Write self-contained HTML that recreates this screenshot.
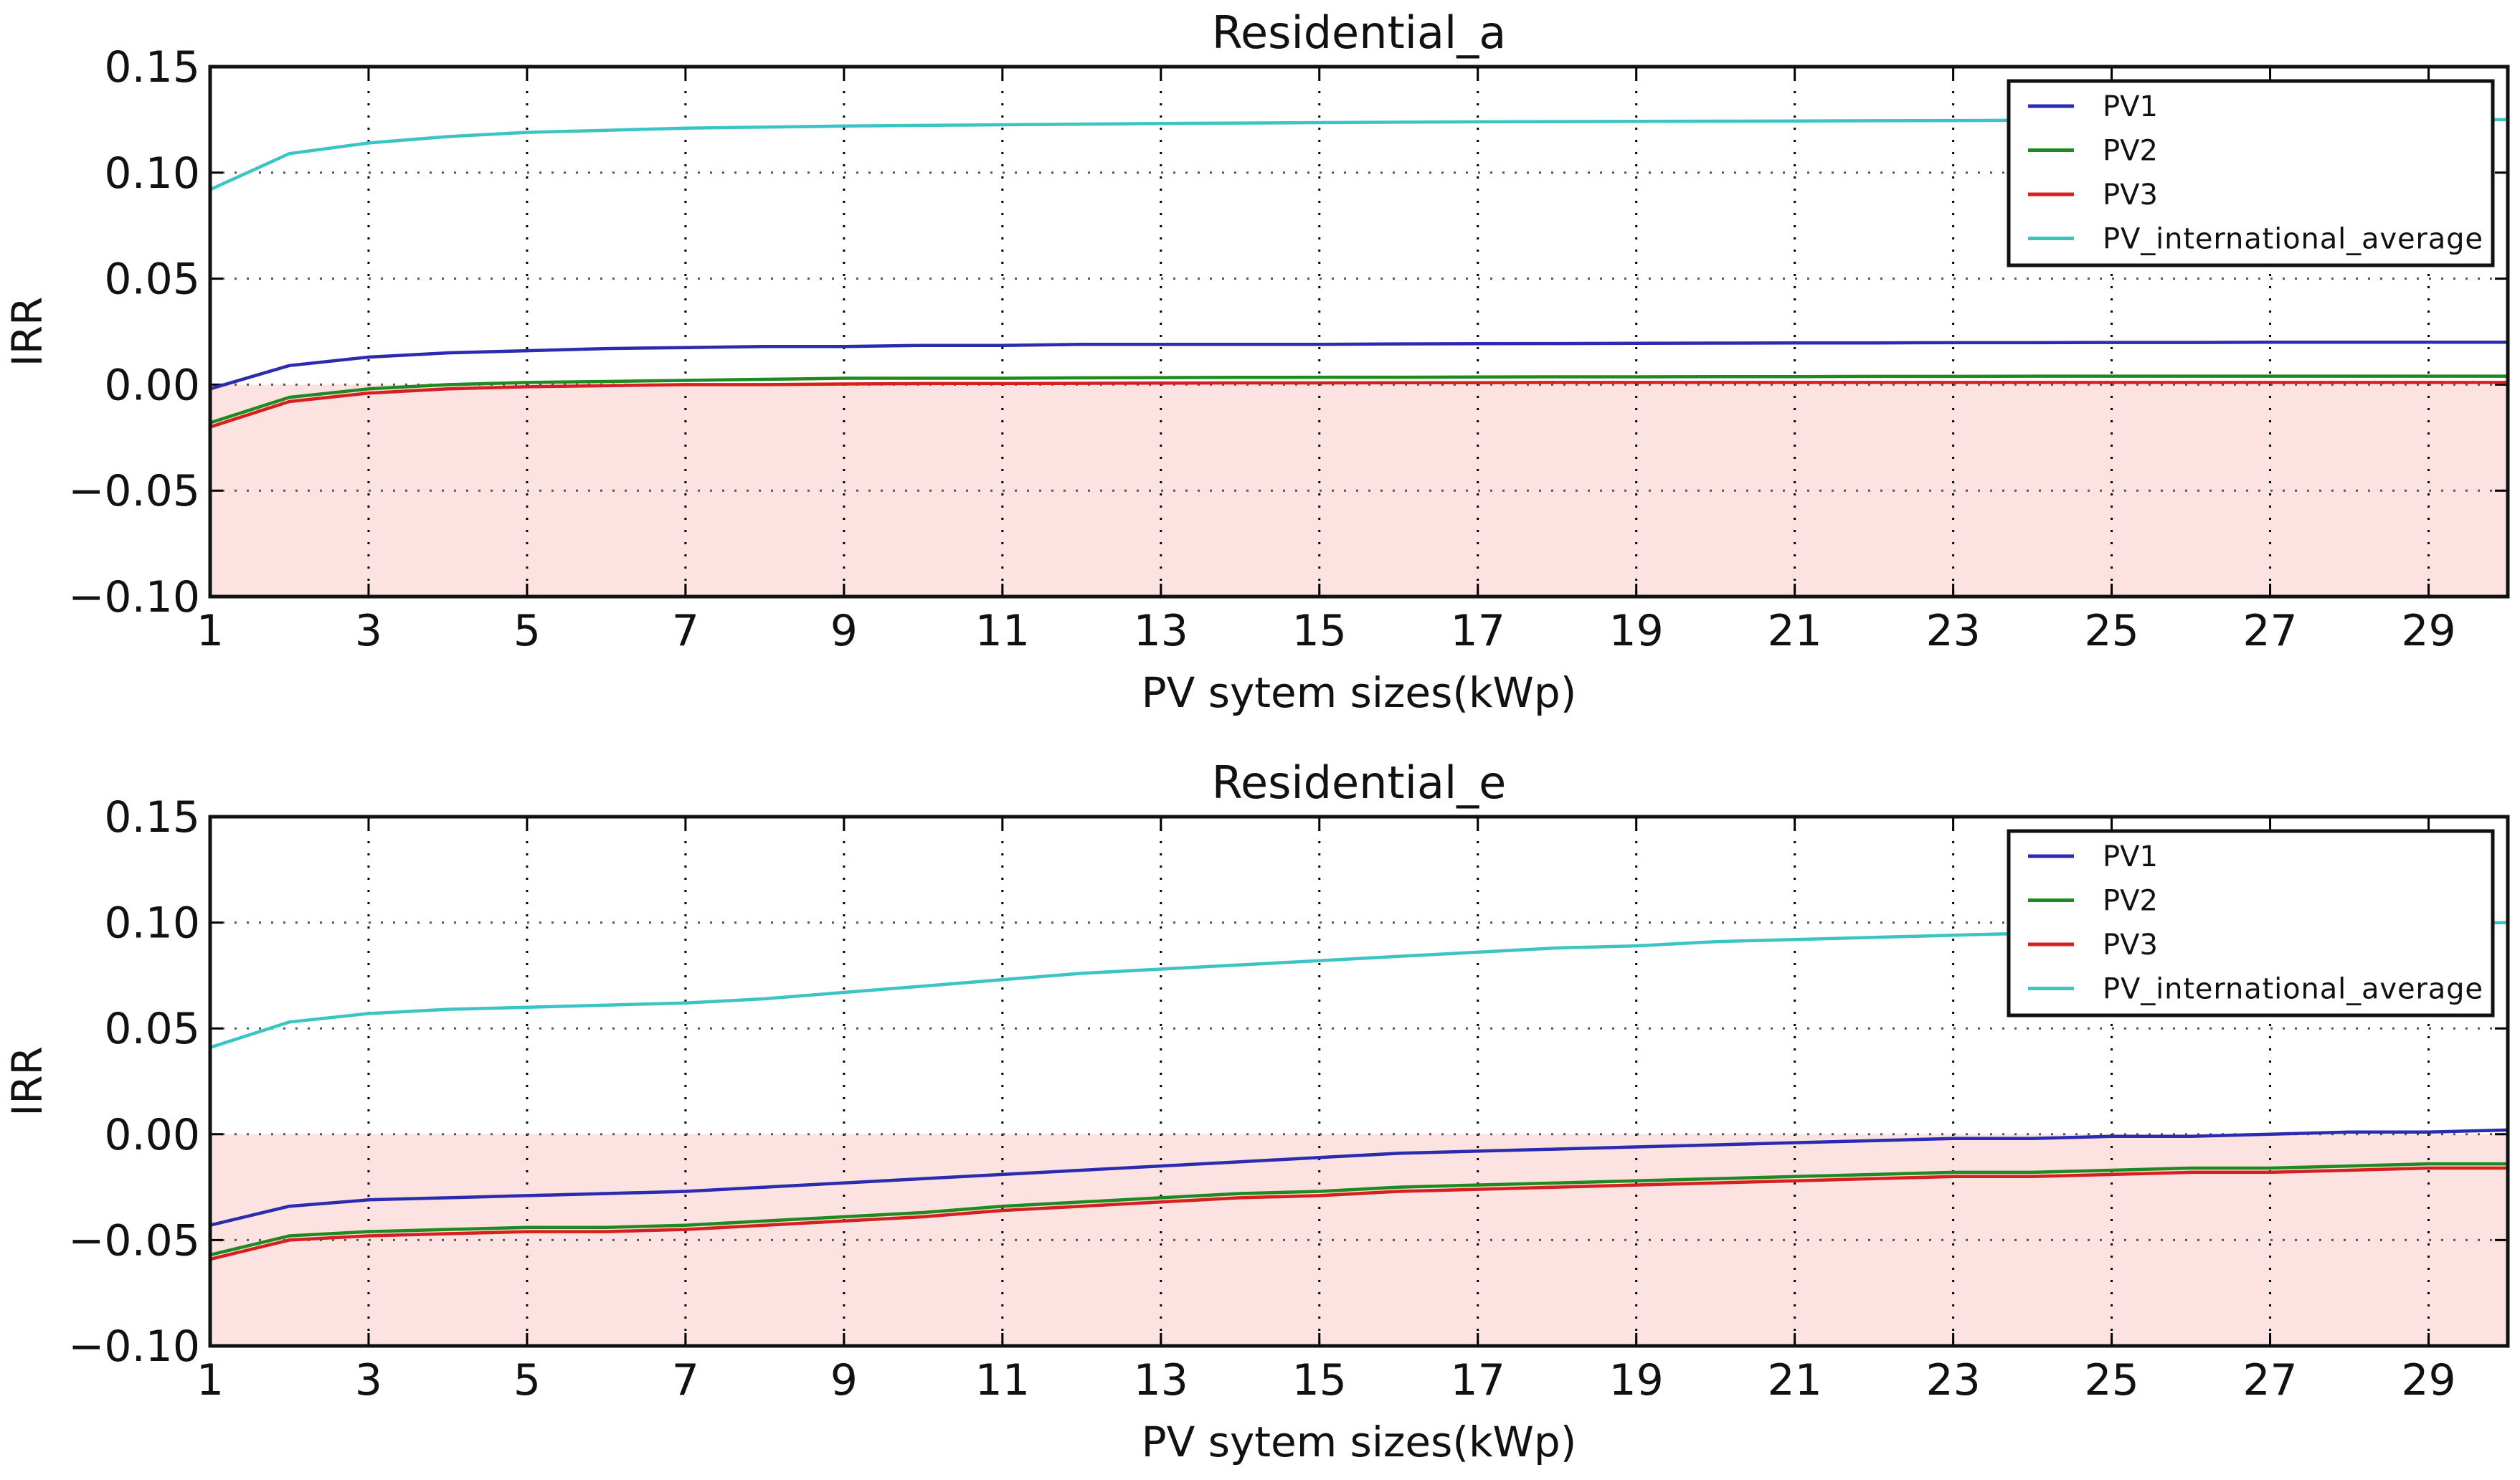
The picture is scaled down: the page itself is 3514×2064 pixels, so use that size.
<!DOCTYPE html>
<html><head><meta charset="utf-8">
<style>
html,body{margin:0;padding:0;background:#fff;}
svg{display:block;font-family:"DejaVu Sans","Liberation Sans",sans-serif;}
</style></head>
<body>
<svg id="chart" width="3514" height="2064" viewBox="0 0 3514 2064" xmlns="http://www.w3.org/2000/svg"></svg>
<script>
const xCats = [1,2,3,4,5,6,7,8,9,10,11,12,13,14,15,16,17,18,19,20,21,22,23,24,25,26,27,28,29,30];
const xTicks = [1,3,5,7,9,11,13,15,17,19,21,23,25,27,29];
const yTicks = [0.15,0.10,0.05,0.00,-0.05,-0.10];
const yTickLabels = ["0.15","0.10","0.05","0.00","\u22120.05","\u22120.10"];
const seriesNames = ["PV1","PV2","PV3","PV_international_average"];
const seriesColors = ["#2b2bb0","#1f8a1f","#d62020","#3cc4c4"];

const aPV1 = [-0.002,0.009,0.013,0.015,0.016,0.017,0.0175,0.018,0.018,0.0185,0.0185,0.019,0.019,0.019,0.019,0.0192,0.0193,0.0194,0.0195,0.0196,0.0197,0.0197,0.0198,0.0198,0.0199,0.0199,0.02,0.02,0.02,0.02];
const aPV2 = [-0.018,-0.006,-0.002,0,0.001,0.0015,0.002,0.0025,0.003,0.003,0.003,0.0032,0.0033,0.0034,0.0035,0.0035,0.0036,0.0037,0.0037,0.0038,0.0038,0.0039,0.0039,0.004,0.004,0.004,0.004,0.004,0.004,0.004];
const aPV3 = [-0.020,-0.008,-0.004,-0.002,-0.001,-0.0005,0,0,0.0003,0.0005,0.0005,0.0006,0.0007,0.0008,0.0008,0.0009,0.0009,0.001,0.001,0.001,0.001,0.001,0.001,0.001,0.001,0.001,0.001,0.001,0.001,0.001];
const aAvg = [0.092,0.109,0.114,0.117,0.119,0.120,0.121,0.1215,0.122,0.1223,0.1226,0.1229,0.1232,0.1234,0.1236,0.1238,0.124,0.1241,0.1242,0.1243,0.1244,0.1245,0.1246,0.1247,0.1248,0.1248,0.1249,0.1249,0.125,0.125];

const ePV1 = [-0.043,-0.034,-0.031,-0.030,-0.029,-0.028,-0.027,-0.025,-0.023,-0.021,-0.019,-0.017,-0.015,-0.013,-0.011,-0.009,-0.008,-0.007,-0.006,-0.005,-0.004,-0.003,-0.002,-0.002,-0.001,-0.001,0,0.001,0.001,0.002];
const ePV2 = [-0.057,-0.048,-0.046,-0.045,-0.044,-0.044,-0.043,-0.041,-0.039,-0.037,-0.034,-0.032,-0.030,-0.028,-0.027,-0.025,-0.024,-0.023,-0.022,-0.021,-0.020,-0.019,-0.018,-0.018,-0.017,-0.016,-0.016,-0.015,-0.014,-0.014];
const ePV3 = [-0.059,-0.050,-0.048,-0.047,-0.046,-0.046,-0.045,-0.043,-0.041,-0.039,-0.036,-0.034,-0.032,-0.030,-0.029,-0.027,-0.026,-0.025,-0.024,-0.023,-0.022,-0.021,-0.020,-0.020,-0.019,-0.018,-0.018,-0.017,-0.016,-0.016];
const eAvg = [0.041,0.053,0.057,0.059,0.060,0.061,0.062,0.064,0.067,0.070,0.073,0.076,0.078,0.080,0.082,0.084,0.086,0.088,0.089,0.091,0.092,0.093,0.094,0.095,0.096,0.097,0.098,0.099,0.0995,0.100];

const NS = "http://www.w3.org/2000/svg";
const svg = document.getElementById("chart");
function mk(tag, attrs, parent){const e=document.createElementNS(NS,tag);for(const k in attrs)e.setAttribute(k,attrs[k]);(parent||svg).appendChild(e);return e;}

const X0=293, X1=3497, XMIN=1, XMAX=30, YMIN=-0.10, YMAX=0.15;

function drawPanel(title, top, bottom, series, key){
  const g = mk("g",{});
  
  
  const xs = v => X0 + (v-XMIN)/(XMAX-XMIN)*(X1-X0);
  const ys = v => bottom - (v-YMIN)/(YMAX-YMIN)*(bottom-top);
  const fill = mk("rect",{x:X0,y:ys(0),width:X1-X0,height:ys(YMIN)-ys(0),fill:"#fde2e2"},g);
  
  
  xTicks.forEach(t=>{
    const l=mk("line",{x1:xs(t),x2:xs(t),y1:top,y2:bottom,stroke:"#000","stroke-width":3,"stroke-dasharray":"3 14"},g);
    
    
    mk("line",{x1:xs(t),x2:xs(t),y1:bottom,y2:bottom-18,stroke:"#000","stroke-width":3},g);
    mk("line",{x1:xs(t),x2:xs(t),y1:top,y2:top+18,stroke:"#000","stroke-width":3},g);
    const tl=mk("text",{x:xs(t),y:bottom+68,"font-size":60,"text-anchor":"middle",fill:"#111"},g);
    tl.textContent=t;
    
    
  });
  yTicks.forEach((t,i)=>{
    const l=mk("line",{x1:X0,x2:X1,y1:ys(t),y2:ys(t),stroke:"#555","stroke-width":3,"stroke-dasharray":"3 14"},g);
    
    
    mk("line",{x1:X0,x2:X0+18,y1:ys(t),y2:ys(t),stroke:"#000","stroke-width":3},g);
    mk("line",{x1:X1,x2:X1-18,y1:ys(t),y2:ys(t),stroke:"#000","stroke-width":3},g);
    const tl=mk("text",{x:X0-14,y:ys(t)+21,"font-size":60,"text-anchor":"end",fill:"#111"},g);
    tl.textContent=yTickLabels[i];
    
    
  });
  series.forEach((s,si)=>{
    const d=s.map((v,i)=>(i?"L":"M")+xs(xCats[i]).toFixed(1)+","+ys(v).toFixed(1)).join(" ");
    const p=mk("path",{d:d,fill:"none",stroke:seriesColors[si],"stroke-width":4.5,"stroke-linejoin":"round"},g);
    
    
  });
  const frame=mk("rect",{x:X0,y:top,width:X1-X0,height:bottom-top,fill:"none",stroke:"#111","stroke-width":5},g);
  
  
  const tt=mk("text",{x:(X0+X1)/2,y:top-26,"font-size":62,"text-anchor":"middle",fill:"#111"},g);
  tt.textContent=title;
  
  
  const xl=mk("text",{x:(X0+X1)/2,y:bottom+154,"font-size":58,"text-anchor":"middle",fill:"#111"},g);
  xl.textContent="PV sytem sizes(kWp)";
  
  
  const cy=(top+bottom)/2;
  const yl=mk("text",{x:58,y:cy,"font-size":58,"text-anchor":"middle",fill:"#111",transform:"rotate(-90 58 "+cy+")"},g);
  yl.textContent="IRR";
  
  
  const lt=top+20;
  const lg=mk("g",{},g);
  
  
  mk("rect",{x:2801,y:lt,width:675,height:257,fill:"#fff",stroke:"#111","stroke-width":5},lg);
  seriesNames.forEach((n,i)=>{
    const ry=lt+35+i*61.5;
    const ll=mk("line",{x1:2828,x2:2892,y1:ry,y2:ry,stroke:seriesColors[i],"stroke-width":5},lg);
    
    
    const lt2=mk("text",{x:2932,y:ry+14,"font-size":40,fill:"#111"},lg);
    lt2.textContent=n;
    if(n.length>5) lt2.setAttribute("textLength","530");
    
    
  });
}
drawPanel("Residential_a",93,832,[aPV1,aPV2,aPV3,aAvg],"residential-a");
drawPanel("Residential_e",1139,1877,[ePV1,ePV2,ePV3,eAvg],"residential-e");
</script>
</body></html>
